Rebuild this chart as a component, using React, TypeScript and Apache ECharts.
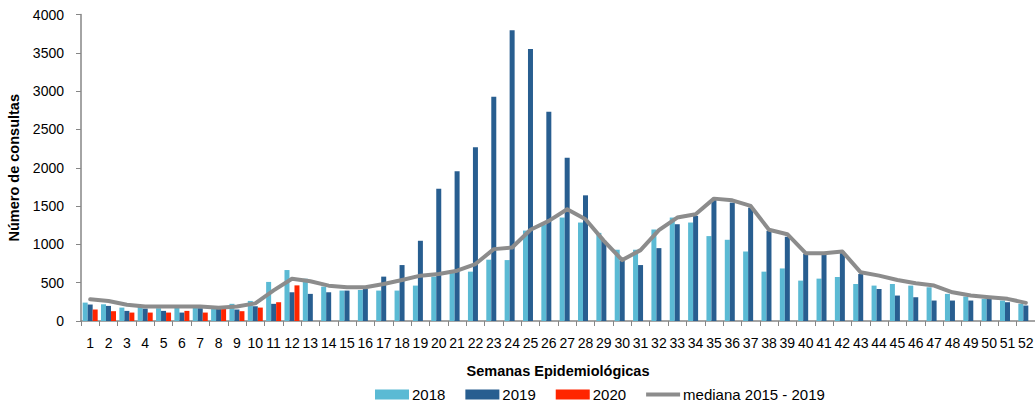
import React, { useEffect, useRef } from "react";
import * as echarts from "echarts";

const weeks: string[] = Array.from({ length: 52 }, (_, i) => String(i + 1));

const values2018: (number | null)[] = [
  240, 218, 175, 200, 167, 175, 200, 158, 224, 262,
  510, 665, 552, 449, 397, 405, 397, 397, 462, 579,
  627, 644, 800, 795, 1180, 1255, 1350, 1285, 1150, 930,
  930, 1194, 1350, 1285, 1108, 1060, 907, 644, 686, 527,
  553, 574, 483, 462, 483, 462, 440, 354, 319, 289,
  267, 224,
];

const values2019: (number | null)[] = [
  215, 197, 132, 162, 132, 110, 167, 160, 150, 193,
  224, 375, 354, 375, 397, 418, 579, 730, 1047, 1727,
  1953, 2269, 2928, 3793, 3551, 2732, 2130, 1640, 1046, 786,
  730, 951, 1263, 1372, 1580, 1545, 1480, 1177, 1099, 876,
  876, 907, 613, 418, 332, 310, 267, 267, 267, 289,
  245, 202,
];

const values2020: (number | null)[] = [
  150, 128, 110, 110, 110, 132, 110, 167, 128, 175,
  245, 465,
];

const median: number[] = [
  283, 262, 212, 189, 189, 189, 189, 172, 190, 230,
  400, 552, 518, 461, 440, 440, 483, 535, 592, 613,
  656, 743, 938, 960, 1190, 1307, 1458, 1328, 1046, 795,
  925, 1185, 1350, 1393, 1597, 1575, 1502, 1190, 1133, 885,
  885, 907, 635, 592, 535, 492, 462, 375, 332, 310,
  289, 237,
];

const yTicks = { min: 0, max: 4000, interval: 500 };

const FONT = "'Liberation Sans', Arial, sans-serif";

export default function App() {
  const ref = useRef<HTMLDivElement>(null);

  useEffect(() => {
    if (!ref.current) return;
    document.body.style.margin = "0";
    const chart = echarts.init(ref.current, null, { renderer: "svg" });
    const axisGray = "#868686";
    chart.setOption({
      animation: false,
      textStyle: { fontFamily: FONT },
      grid: {
        left: 81,
        right: 0,
        top: 14.5,
        bottom: 85,
        containLabel: false,
        outerBoundsMode: "none",
      },
      legend: {
        left: 375,
        top: 387,
        padding: 0,
        itemWidth: 34,
        itemHeight: 10,
        itemGap: 20,
        textStyle: { fontSize: 15, color: "#000", fontFamily: FONT, padding: [0, 0, 0, -2] },
        data: [
          { name: "2018", icon: "rect" },
          { name: "2019", icon: "rect" },
          { name: "2020", icon: "rect" },
          { name: "mediana 2015 - 2019", icon: "path://M0,0H34V4H0Z" },
        ],
      },
      xAxis: {
        type: "category",
        data: weeks,
        boundaryGap: true,
        axisLine: { lineStyle: { color: axisGray, width: 1.5 } },
        axisTick: { show: true, alignWithLabel: false, length: 5, lineStyle: { color: axisGray } },
        axisLabel: {
          interval: 0,
          fontSize: 14,
          color: "#000",
          margin: 15,
          fontFamily: FONT,
          hideOverlap: false,
        },
        name: "Semanas Epidemiológicas",
        nameLocation: "middle",
        nameGap: 42,
        nameTextStyle: { fontSize: 14.5, fontWeight: "bold", color: "#000", fontFamily: FONT },
      },
      yAxis: {
        type: "value",
        min: yTicks.min,
        max: yTicks.max,
        interval: yTicks.interval,
        axisLine: { show: true, lineStyle: { color: axisGray, width: 1.5 } },
        axisTick: { show: true, length: 5, lineStyle: { color: axisGray } },
        splitLine: { show: false },
        axisLabel: {
          fontSize: 14,
          color: "#000",
          margin: 17,
          fontFamily: FONT,
          formatter: (v: number) => String(v),
        },
        name: "Número de consultas",
        nameLocation: "middle",
        nameRotate: 90,
        nameGap: 58,
        nameTextStyle: { fontSize: 14.5, fontWeight: "bold", color: "#000", fontFamily: FONT },
      },
      series: [
        {
          name: "2018",
          type: "bar",
          data: values2018,
          barWidth: 5,
          barGap: "0%",
          itemStyle: { color: "#5bbad4" },
        },
        {
          name: "2019",
          type: "bar",
          data: values2019,
          barWidth: 5,
          barGap: "0%",
          itemStyle: { color: "#285e90" },
        },
        {
          name: "2020",
          type: "bar",
          data: values2020,
          barWidth: 5,
          barGap: "0%",
          itemStyle: { color: "#ff2500" },
        },
        {
          name: "mediana 2015 - 2019",
          type: "line",
          data: median,
          symbol: "none",
          z: 5,
          lineStyle: { color: "#8c8c8c", width: 4, join: "round", cap: "round" },
          itemStyle: { color: "#8c8c8c" },
        },
      ],
    });
    return () => chart.dispose();
  }, []);

  return (
    <div
      ref={ref}
      style={{ position: "absolute", left: 0, top: 0, width: 1035, height: 406 }}
    />
  );
}
